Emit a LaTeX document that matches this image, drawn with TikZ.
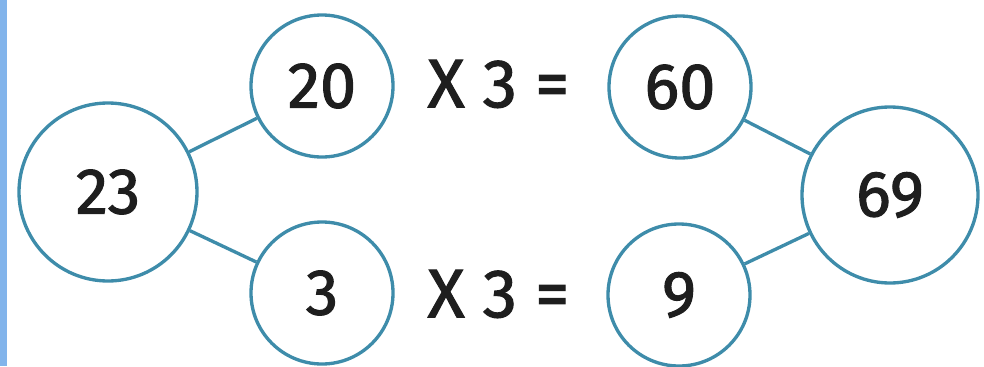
\documentclass[tikz,border=0pt]{standalone}
\usepackage{fontspec}
\setmainfont{Fira Sans}[FakeBold=1.6, BoldFont={Fira Sans}]
\usetikzlibrary{positioning}
\definecolor{ringTeal}{RGB}{62, 140, 170}
\definecolor{barBlue}{RGB}{130, 180, 235}
\definecolor{inkDigit}{RGB}{30, 30, 30}
\begin{document}
\begin{tikzpicture}[
        part/.style={draw=ringTeal, circle, line width=1.9pt, inner sep=0pt, minimum size=2.84cm, font=\fontsize{37pt}{40pt}\selectfont\bfseries\color{inkDigit}},
        whole/.style={part, minimum size=3.56cm},
        eqn/.style={font=\fontsize{39pt}{44pt}\selectfont\bfseries\color{inkDigit}},
        link/.style={draw=ringTeal, line width=1.9pt}
    ]
        \useasboundingbox (0,0) rectangle (19.68,7.32);
        \fill[barBlue] (0,0) rectangle (0.15,7.32);

        % split 23
        \node[whole] (n23) at (2.16, 3.48) {23};
        \node[part] (n20) at (6.44, 5.60) {20};
        \node[part] (n3) at (6.44, 1.46) {3};
        \draw[link] (n23) -- (n20);
        \draw[link] (n23) -- (n3);

        % products
        \node[eqn] (eqtop) at (9.97, 5.64) {X 3 =};
        \node[eqn] (eqbot) at (9.97, 1.44) {X 3 =};
        \node[part] (n60) at (13.60, 5.58) {60};
        \node[part] (n9) at (13.58, 1.42) {9};

        % sum 69
        \node[whole, minimum size=3.52cm] (n69) at (17.80, 3.42) {69};
        \draw[link] (n60) -- (n69);
        \draw[link] (n9) -- (n69);
    \end{tikzpicture}
\end{document}
